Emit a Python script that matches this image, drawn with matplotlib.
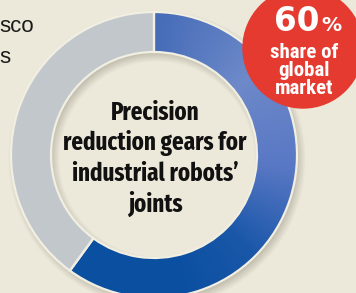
import numpy as np
import matplotlib
matplotlib.use("Agg")
import matplotlib.pyplot as plt

# ---- data ----
segments = ["Harmonic drive share", "Others"]
shares = [60, 40]
badge_value = "60"
badge_unit = "%"
badge_lines = ["share of", "global", "market"]
center_title = "Precision\nreduction gears for\nindustrial robots\u2019\njoints"
side_lines = ["sco", "s"]

# ---- style ----
W_PX, H_PX = 356, 293
bg = "#ece9da"
blue = "#1a55a6"
gray = "#c1c7cb"
red = "#e53a30"
cx, cy = 154, H_PX - 155
R, ring_w = 143, 40
r_in = R - ring_w
COND = ["Roboto Condensed", "Liberation Sans Narrow", "Fira Sans Condensed", "DejaVu Sans"]
XCOND = ["Fira Sans Extra Condensed", "Roboto Condensed", "DejaVu Sans"]


def Y(t):
    return H_PX - t


fig = plt.figure(figsize=(W_PX / 100, H_PX / 100), dpi=100)
fig.patch.set_facecolor(bg)
ax = fig.add_axes([0, 0, 1, 1])
ax.set_facecolor(bg)

# soft drop shadow under the ring
xs = np.arange(W_PX) + 0.5
ys = np.arange(H_PX) + 0.5
XX, YY = np.meshgrid(xs, ys)
d = np.hypot(XX - (cx + 3), YY - (cy - 4))
w = 6.0
s = np.clip((d - r_in + w) / (2 * w), 0, 1) * np.clip((R - d + w) / (2 * w), 0, 1)
sh = np.zeros((H_PX, W_PX, 4))
sh[..., 0] = 0.33
sh[..., 1] = 0.31
sh[..., 2] = 0.25
sh[..., 3] = 0.35 * s
ax.imshow(sh, extent=(0, W_PX, 0, H_PX), origin="lower", zorder=1,
          interpolation="bilinear")

wedges, _ = ax.pie(shares, colors=[blue, gray], startangle=90,
                   counterclock=False, center=(cx, cy), radius=R,
                   wedgeprops=dict(width=ring_w, linewidth=0))
for wd in wedges:
    wd.set_zorder(2)

# gradient fill for the blue segment
theta = np.degrees(np.arctan2(XX - cx, YY - cy)) % 360
stops = [0, 50, 95, 135, 170, 360]
cols = np.array([[0.27, 0.42, 0.72],
                 [0.43, 0.54, 0.79],
                 [0.35, 0.47, 0.77],
                 [0.10, 0.34, 0.66],
                 [0.04, 0.31, 0.63],
                 [0.04, 0.31, 0.63]])
grad = np.zeros((H_PX, W_PX, 3))
for k in range(3):
    grad[..., k] = np.interp(theta, stops, cols[:, k])
im = ax.imshow(grad, extent=(0, W_PX, 0, H_PX), origin="lower", zorder=3,
               interpolation="bilinear")
im.set_clip_path(wedges[0])

# separators
edges, _ = ax.pie(shares, colors=["none", "none"], startangle=90,
                  counterclock=False, center=(cx, cy), radius=R,
                  wedgeprops=dict(width=ring_w, linewidth=1.6,
                                  edgecolor="#f1eee2", fill=False))
for e in edges:
    e.set_zorder(4)

ax.set_xlim(0, W_PX)
ax.set_ylim(0, H_PX)
ax.set_aspect("equal")
ax.axis("off")

# center title
ax.text(cx + 1, Y(159), center_title, ha="center", va="center",
        fontsize=18, fontweight="bold", family=XCOND,
        color="#111111", linespacing=1.25, zorder=5)

# red badge
badge = plt.Circle((303, Y(48)), 60, color=red, zorder=6)
ax.add_patch(badge)
ax.text(320, Y(31), badge_value, ha="right", va="baseline", fontsize=23.5,
        fontweight="bold", family="DejaVu Sans", color="white", zorder=7)
ax.text(321, Y(31), badge_unit, ha="left", va="baseline", fontsize=14.5,
        fontweight="bold", family="DejaVu Sans", color="white", zorder=7)
ax.text(304, Y(70.5), "\n".join(badge_lines), ha="center", va="center",
        fontsize=15, fontweight="bold", family=COND, color="white",
        linespacing=0.9, zorder=7)

# cropped side text
ax.text(-1, Y(32), side_lines[0], ha="left", va="baseline", fontsize=16,
        family="Liberation Sans", color="#1a1a1a", zorder=5)
ax.text(-1, Y(63), side_lines[1], ha="left", va="baseline", fontsize=16,
        family="Liberation Sans", color="#1a1a1a", zorder=5)

fig.savefig("out.png", dpi=100, facecolor=bg)
